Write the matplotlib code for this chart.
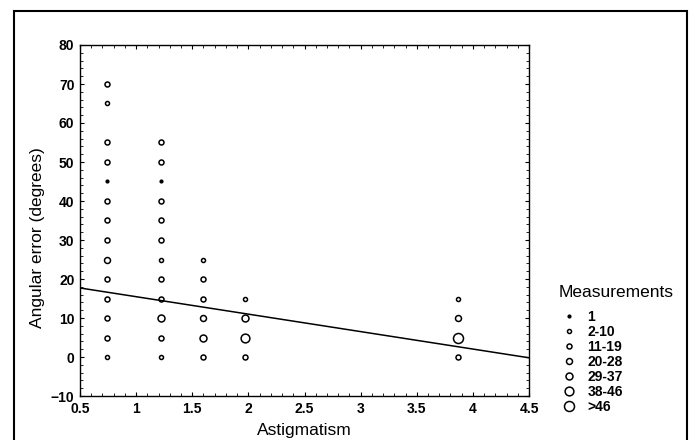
import matplotlib.pyplot as plt
from matplotlib.lines import Line2D
from matplotlib.patches import Rectangle

plt.rcParams['font.family'] = ['Liberation Sans', 'DejaVu Sans']

# Measurement groups (legend classes)
size_labels = ["1", "2-10", "11-19", "20-28", "29-37", "38-46", ">46"]
marker_sizes = [2.0, 2.9, 3.6, 4.3, 5.0, 6.3, 7.2]

# astigmatism column values, angular error, size class index
astig = [0.74] * 14 + [1.22] * 12 + [1.6] * 6 + [1.97] * 4 + [3.87] * 4
error = [70, 65, 55, 50, 45, 40, 35, 30, 25, 20, 15, 10, 5, 0,
         55, 50, 45, 40, 35, 30, 25, 20, 15, 10, 5, 0,
         25, 20, 15, 10, 5, 0,
         15, 10, 5, 0,
         15, 10, 5, 0]
size_class = [2, 1, 2, 2, 0, 2, 2, 2, 3, 2, 2, 2, 2, 1,
              2, 2, 0, 2, 2, 2, 1, 2, 2, 4, 2, 1,
              1, 2, 2, 3, 4, 2,
              1, 4, 5, 2,
              1, 3, 6, 2]

# regression line end points
fit_x = [0.5, 4.5]
fit_y = [17.7, -0.2]

fig = plt.figure(figsize=(6.95, 4.4), dpi=100)
ax = fig.add_axes([80 / 695, 1 - 396 / 440, 449 / 695, 351 / 440])

for xv, yv, c in zip(astig, error, size_class):
    if c == 0:
        ax.plot(xv, yv, 'o', ms=marker_sizes[c], color='black', mec='black')
    else:
        ax.plot(xv, yv, 'o', ms=marker_sizes[c], mfc='none', mec='black', mew=1.1)

ax.plot(fit_x, fit_y, color='black', lw=1.1)

ax.set_xlim(0.5, 4.5)
ax.set_ylim(-10, 80)
ax.set_xticks([0.5, 1, 1.5, 2, 2.5, 3, 3.5, 4, 4.5])
ax.set_xticklabels(["0.5", "1", "1.5", "2", "2.5", "3", "3.5", "4", "4.5"])
ax.set_yticks(range(-10, 81, 10))
ax.set_xticks([0.5 + 0.1 * i for i in range(41)], minor=True)
ax.set_yticks(range(-10, 81, 2), minor=True)
ax.tick_params(which='both', direction='in', top=True, right=True)
ax.tick_params(which='major', length=3, width=0.8, labelsize=10, pad=4)
ax.tick_params(which='minor', length=2, width=0.6)
for lab in ax.get_xticklabels() + ax.get_yticklabels():
    lab.set_fontweight('bold')
for sp in ax.spines.values():
    sp.set_linewidth(1.0)

ax.set_xlabel("Astigmatism", fontsize=12.5, labelpad=5)
ax.set_ylabel("Angular error (degrees)", fontsize=12.5)
ax.yaxis.label.set_va('center')
ax.yaxis.set_label_coords((38 - 80) / 449, (396 - 238) / 351)

handles = []
for i, lab in enumerate(size_labels):
    if i == 0:
        h = Line2D([], [], ls='none', marker='o', ms=marker_sizes[i], color='black')
    else:
        h = Line2D([], [], ls='none', marker='o', ms=marker_sizes[i],
                   mfc='none', mec='black', mew=1.1)
    handles.append(h)
leg = ax.legend(handles, size_labels, title="Measurements", frameon=False,
                loc='upper left', bbox_to_anchor=(552 / 695, 1 - 278 / 440),
                bbox_transform=fig.transFigure, fontsize=10, title_fontsize=12.5,
                handlelength=1.4, handletextpad=0.65, labelspacing=0.08,
                borderpad=0, alignment='left')
for t in leg.get_texts():
    t.set_fontweight('bold')
leg._legend_box.sep = 7

# outer frame
fig.add_artist(Rectangle((14 / 695, -0.05), 673 / 695, 1.05 - 11 / 440,
                         transform=fig.transFigure, fill=False, lw=1.5,
                         edgecolor='black'))

fig.savefig("out.png", dpi=100)
